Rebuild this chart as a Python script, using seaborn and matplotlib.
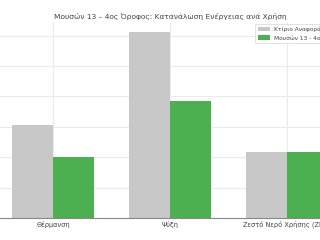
import matplotlib
matplotlib.use("Agg")
import matplotlib.pyplot as plt
import seaborn as sns
import pandas as pd

categories = ["Θέρμανση", "Ψύξη", "Ζεστό Νερό Χρήσης (ΖΝΧ)"]
series_names = ["Κτίριο Αναφοράς", "Μουσών 13 - 4ος Όροφος"]
reference_values = [30.5, 61.3, 21.6]
building_values = [20.0, 38.4, 21.6]
colors = ["#c8c8c8", "#4caf50"]

df = pd.DataFrame({
    "Χρήση": categories * 2,
    "Σειρά": [series_names[0]] * 3 + [series_names[1]] * 3,
    "Τιμή": reference_values + building_values,
})

sns.set_theme(style="whitegrid")
plt.rcParams["font.family"] = ["DejaVu Sans"]

fig = plt.figure(figsize=(3.2, 2.4), dpi=100)
W, H = 320, 240
left_px, right_px, top_px, bottom_px = -5.5, 345.5, 22, 218
ax = fig.add_axes([left_px / W, 1 - bottom_px / H, (right_px - left_px) / W, (bottom_px - top_px) / H])

sns.barplot(data=df, x="Χρήση", y="Τιμή", hue="Σειρά", palette=colors,
            width=0.7, linewidth=0, saturation=1, ax=ax, errorbar=None)

ax.xaxis.grid(True, color="#ebebeb", linewidth=0.8)
ax.yaxis.grid(True, color="#ebebeb", linewidth=0.8)
ax.set_axisbelow(True)
ax.set_xlabel("")
ax.set_ylabel("")
ax.set_xlim(-0.5, 2.5)
ax.set_ylim(0, 64.5)
ax.set_yticks([0, 10, 20, 30, 40, 50, 60])
ax.tick_params(axis="x", labelsize=4.8, colors="#444444", pad=2, length=0)
ax.tick_params(axis="y", length=0, labelleft=False)
for s in ["top", "right", "left"]:
    ax.spines[s].set_visible(False)
ax.spines["bottom"].set_color("#888888")
ax.spines["bottom"].set_linewidth(0.8)

ax.set_title("Μουσών 13 – 4ος Όροφος: Κατανάλωση Ενέργειας ανά Χρήση",
             fontsize=5.4, color="#444444", pad=2.5)

leg = ax.legend(loc="upper left", bbox_to_anchor=((255 - left_px) / (right_px - left_px), 0.99),
                fontsize=4.2, frameon=True, framealpha=1,
                edgecolor="#dddddd", handlelength=2.0, borderpad=0.5,
                labelspacing=0.45, borderaxespad=0)
leg.get_frame().set_linewidth(0.6)
for t in leg.get_texts():
    t.set_color("#444444")

fig.savefig("out.png", dpi=100)
